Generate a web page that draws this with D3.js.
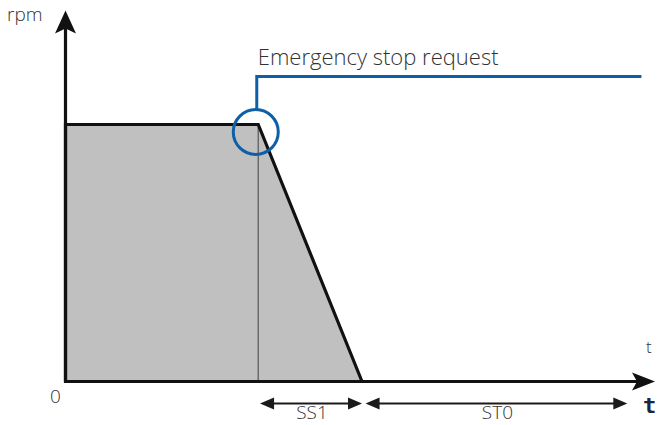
<!DOCTYPE html>
<html>
<head>
<meta charset="utf-8">
<script src="https://cdn.jsdelivr.net/npm/d3@7"></script>
<style>
  body { margin: 0; background: #fff; }
  text { font-family: "Open Sans", "Liberation Sans", sans-serif; font-weight: 300; fill: #333; }
</style>
</head>
<body>
<svg id="chart"></svg>
<script>
/* CONSTANTS AND GLOBALS */
const width = 661,
  height = 425;

/* DATA */
// speed profile: time (arbitrary units) and rpm (% of running speed)
const profileTime = [0, 3.27, 5.03];
const profileRpm = [100, 100, 0];
// emergency stop request signal
const requestTime = [3.27, 9.77];
const requestLevel = 118.7;
// stop categories (start / end time)
const stopNames = ["SS1", "ST0"];
const stopStart = [3.3, 5.09];
const stopEnd = [5.03, 9.53];
const axisEnd = { t: 10, rpm: 144 };

/* SCALES */
const xScale = d3.scaleLinear().domain([0, 10]).range([65.5, 655]);
const yScale = d3.scaleLinear().domain([0, 100]).range([381.5, 124.5]);

const svg = d3.select("#chart").attr("width", width).attr("height", height);

const blue = "#0f5fa6";
const x0 = xScale(0), y0 = yScale(0);

// gray area under the speed profile
const area = d3.area()
  .x(d => xScale(d[0]))
  .y0(y0)
  .y1(d => yScale(d[1]));
const pts = profileTime.map((t, i) => [t, profileRpm[i]]);

svg.append("path")
  .attr("d", area(pts))
  .attr("fill", "#c0c0c0");

// thin line at the request
svg.append("line")
  .attr("x1", xScale(profileTime[1])).attr("x2", xScale(profileTime[1]))
  .attr("y1", yScale(profileRpm[1])).attr("y2", y0)
  .attr("stroke", "#6a6a6a").attr("stroke-width", 1.5);

// speed outline
svg.append("path")
  .attr("d", d3.line().x(d => xScale(d[0])).y(d => yScale(d[1]))([[0, 0], ...pts]))
  .attr("fill", "none").attr("stroke", "#111").attr("stroke-width", 3.2)
  .attr("stroke-linejoin", "miter");

// axes with stealth arrowheads
function stealth(tx, ty, dir, len, half, notch) {
  // dir: unit vector pointing to the tip
  const [dx, dy] = dir, px = -dy, py = dx;
  const bx = tx - dx * len, by = ty - dy * len;
  const nx = tx - dx * (len - notch), ny = ty - dy * (len - notch);
  return `M${tx},${ty}L${bx + px * half},${by + py * half}L${nx},${ny}L${bx - px * half},${by - py * half}Z`;
}

const yTop = yScale(axisEnd.rpm), xRight = xScale(axisEnd.t);
svg.append("line")
  .attr("x1", x0).attr("x2", x0).attr("y1", y0 + 1.5).attr("y2", yTop + 12)
  .attr("stroke", "#111").attr("stroke-width", 3.2);
svg.append("line")
  .attr("x1", x0 - 1.5).attr("x2", xRight - 12).attr("y1", y0).attr("y2", y0)
  .attr("stroke", "#111").attr("stroke-width", 3.2);
svg.append("path").attr("d", stealth(x0, yTop - 1, [0, -1], 23, 10.5, 5)).attr("fill", "#111");
svg.append("path").attr("d", stealth(xRight, y0, [1, 0], 23, 9, 5)).attr("fill", "#111");

// emergency stop request signal and marker circle
const cx = xScale(profileTime[1]) - 2.5, cy = yScale(profileRpm[1]) + 7.5, r = 22.5;
svg.append("path")
  .attr("d", d3.line()([
    [xScale(requestTime[0]) - 1.5, cy - r],
    [xScale(requestTime[0]) - 1.5, yScale(requestLevel)],
    [xScale(requestTime[1]), yScale(requestLevel)]
  ]))
  .attr("fill", "none").attr("stroke", blue).attr("stroke-width", 3);
svg.append("circle")
  .attr("cx", cx).attr("cy", cy).attr("r", r)
  .attr("fill", "none").attr("stroke", blue).attr("stroke-width", 3);

svg.append("text")
  .attr("x", xScale(requestTime[0]) - 0.5).attr("y", 65)
  .attr("font-size", 22)
  .text("Emergency stop request");

// dimension arrows for stop categories
const dimY = 403.5;
stopNames.forEach((name, i) => {
  const a = xScale(stopStart[i]), b = xScale(stopEnd[i]);
  svg.append("line")
    .attr("x1", a + 8).attr("x2", b - 8).attr("y1", dimY).attr("y2", dimY)
    .attr("stroke", "#1a1a1a").attr("stroke-width", 2);
  svg.append("path").attr("d", stealth(a, dimY, [-1, 0], 14, 6, 0)).attr("fill", "#1a1a1a");
  svg.append("path").attr("d", stealth(b, dimY, [1, 0], 14, 6, 0)).attr("fill", "#1a1a1a");
  svg.append("text")
    .attr("x", (a + b) / 2 + 1).attr("y", 419)
    .attr("text-anchor", "middle").attr("font-size", 19)
    .text(name);
});

// labels
svg.append("text").attr("x", 7).attr("y", 21).attr("font-size", 19).text("rpm");
svg.append("text").attr("x", 50).attr("y", 403).attr("font-size", 19).text("0");
svg.append("text").attr("x", 646).attr("y", 353).attr("font-size", 17).attr("fill", "#444").text("t");
svg.append("text").attr("x", 643).attr("y", 413).attr("font-size", 22)
  .style("font-family", "'DejaVu Sans Mono', monospace").style("font-weight", 700)
  .style("fill", "#1b2440").text("t");
</script>
</body>
</html>
